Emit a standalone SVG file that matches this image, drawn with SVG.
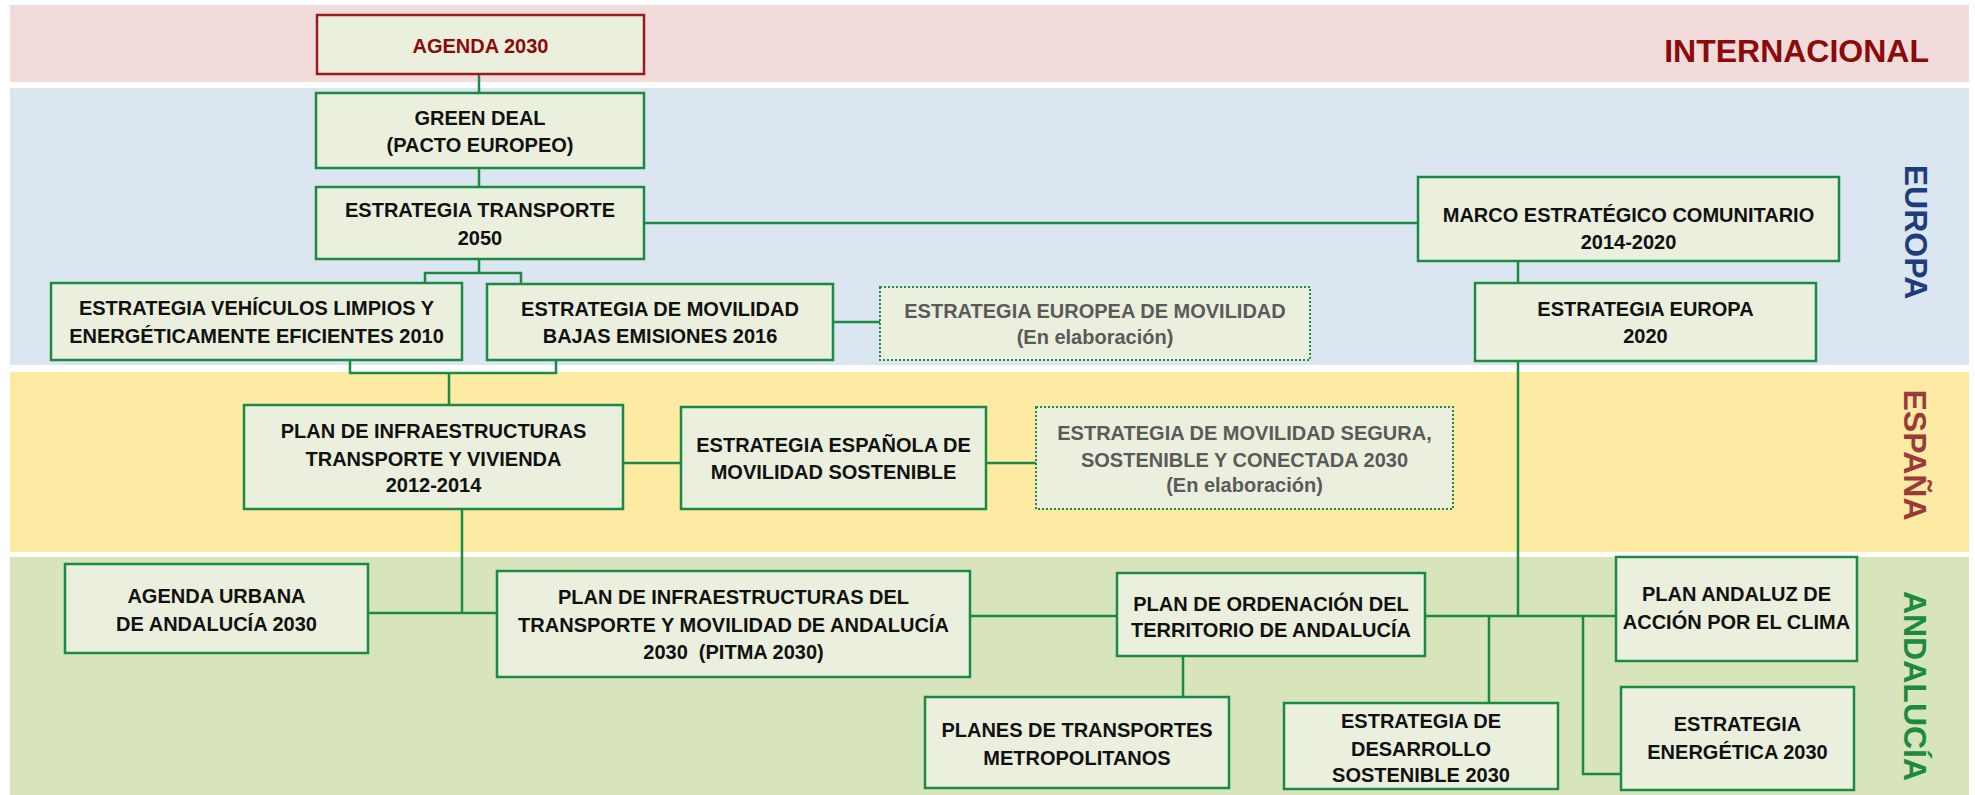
<svg xmlns="http://www.w3.org/2000/svg" width="1975" height="795" viewBox="0 0 1975 795">
<style>
.band{stroke:none}
.node{fill:#EBF0DE;stroke:#1B8A46;stroke-width:2.5}
.red{fill:#EBF0DE;stroke:#9B1B1B;stroke-width:2.5}
.dash{fill:#EBF0DE;stroke:#1B8A46;stroke-width:2;stroke-dasharray:2 2}
.t{font-family:"Liberation Sans",Arial,sans-serif;font-weight:bold;font-size:20px;fill:#111;text-anchor:middle}
.g{fill:#5A5A5A}
.r{fill:#8B0A0A}
.lab{font-family:"Liberation Sans",Arial,sans-serif;font-weight:bold;font-size:32px}
#connectors path{fill:none;stroke:#1B8A46;stroke-width:2.5}
</style>
<rect width="1975" height="795" fill="#ffffff"/>
<g id="bands">
<rect class="band" x="10" y="5" width="1959" height="77" fill="#F2DCDB"/>
<rect class="band" x="10" y="88" width="1959" height="277" fill="#DCE6F1"/>
<rect class="band" x="10" y="372" width="1959" height="180" fill="#FDEBA4"/>
<rect class="band" x="10" y="557" width="1959" height="238" fill="#D8E4BC"/>
</g>
<g id="labels">
<text class="lab" x="1929" y="62" text-anchor="end" fill="#8B0A0A">INTERNACIONAL</text>
<text class="lab" x="1916" y="232" text-anchor="middle" dominant-baseline="central" fill="#1F3C7C" transform="rotate(90 1916 232)">EUROPA</text>
<text class="lab" x="1915" y="455" text-anchor="middle" dominant-baseline="central" fill="#9A3A3A" transform="rotate(90 1915 455)">ESPAÑA</text>
<text class="lab" x="1915" y="686" text-anchor="middle" dominant-baseline="central" fill="#1E8A3E" transform="rotate(90 1915 686)">ANDALUCÍA</text>
</g>
<g id="connectors">
<path d="M479 74V93"/>
<path d="M479 168V187"/>
<path d="M479 259V273M425 283V273H521V284"/>
<path d="M350 360V373H556V360M449 373V405"/>
<path d="M644 223H1418"/>
<path d="M1518 261V283"/>
<path d="M833 322H880"/>
<path d="M623 463H681"/>
<path d="M986 463H1036"/>
<path d="M462 509V613M368 613H497"/>
<path d="M970 616H1117"/>
<path d="M1183 656V697"/>
<path d="M1518 361V616M1425 616H1616"/>
<path d="M1489 616V703"/>
<path d="M1583 616V774H1621"/>
</g>
<g id="agenda2030">
<rect class="red" x="317" y="15" width="327" height="59"/>
<text class="t r" x="480.5" y="53">AGENDA 2030</text>
</g>
<g id="greendeal">
<rect class="node" x="316" y="93" width="328" height="75"/>
<text class="t" x="480" y="125">GREEN DEAL</text>
<text class="t" x="480" y="152">(PACTO EUROPEO)</text>
</g>
<g id="estrategia-transporte">
<rect class="node" x="316" y="187" width="328" height="72"/>
<text class="t" x="480" y="217">ESTRATEGIA TRANSPORTE</text>
<text class="t" x="480" y="245">2050</text>
</g>
<g id="vehiculos-limpios">
<rect class="node" x="51" y="283" width="411" height="77"/>
<text class="t" x="256.5" y="315">ESTRATEGIA VEHÍCULOS LIMPIOS Y</text>
<text class="t" x="256.5" y="343">ENERGÉTICAMENTE EFICIENTES 2010</text>
</g>
<g id="bajas-emisiones">
<rect class="node" x="487" y="284" width="346" height="76"/>
<text class="t" x="660" y="316">ESTRATEGIA DE MOVILIDAD</text>
<text class="t" x="660" y="343">BAJAS EMISIONES 2016</text>
</g>
<g id="europea-movilidad">
<rect class="dash" x="880" y="287" width="430" height="73"/>
<text class="t g" x="1095" y="318">ESTRATEGIA EUROPEA DE MOVILIDAD</text>
<text class="t g" x="1095" y="344">(En elaboración)</text>
</g>
<g id="marco-estrategico">
<rect class="node" x="1418" y="177" width="421" height="84"/>
<text class="t" x="1628.5" y="222">MARCO ESTRATÉGICO COMUNITARIO</text>
<text class="t" x="1628.5" y="249">2014-2020</text>
</g>
<g id="europa-2020">
<rect class="node" x="1475" y="283" width="341" height="78"/>
<text class="t" x="1645.5" y="316">ESTRATEGIA EUROPA</text>
<text class="t" x="1645.5" y="343">2020</text>
</g>
<g id="plan-infraestructuras">
<rect class="node" x="244" y="405" width="379" height="104"/>
<text class="t" x="433.5" y="438">PLAN DE INFRAESTRUCTURAS</text>
<text class="t" x="433.5" y="466">TRANSPORTE Y VIVIENDA</text>
<text class="t" x="433.5" y="492">2012-2014</text>
</g>
<g id="espanola-movilidad">
<rect class="node" x="681" y="407" width="305" height="102"/>
<text class="t" x="833.5" y="452">ESTRATEGIA ESPAÑOLA DE</text>
<text class="t" x="833.5" y="479">MOVILIDAD SOSTENIBLE</text>
</g>
<g id="movilidad-segura">
<rect class="dash" x="1036" y="407" width="417" height="102"/>
<text class="t g" x="1244.5" y="440">ESTRATEGIA DE MOVILIDAD SEGURA,</text>
<text class="t g" x="1244.5" y="467">SOSTENIBLE Y CONECTADA 2030</text>
<text class="t g" x="1244.5" y="492">(En elaboración)</text>
</g>
<g id="agenda-urbana">
<rect class="node" x="65" y="564" width="303" height="89"/>
<text class="t" x="216.5" y="603">AGENDA URBANA</text>
<text class="t" x="216.5" y="631">DE ANDALUCÍA 2030</text>
</g>
<g id="pitma">
<rect class="node" x="497" y="571" width="473" height="106"/>
<text class="t" x="733.5" y="604">PLAN DE INFRAESTRUCTURAS DEL</text>
<text class="t" x="733.5" y="632">TRANSPORTE Y MOVILIDAD DE ANDALUCÍA</text>
<text class="t" x="733.5" y="659">2030&#160; (PITMA 2030)</text>
</g>
<g id="ordenacion-territorio">
<rect class="node" x="1117" y="573" width="308" height="83"/>
<text class="t" x="1271" y="611">PLAN DE ORDENACIÓN DEL</text>
<text class="t" x="1271" y="637">TERRITORIO DE ANDALUCÍA</text>
</g>
<g id="planes-transportes">
<rect class="node" x="925" y="697" width="304" height="91"/>
<text class="t" x="1077" y="737">PLANES DE TRANSPORTES</text>
<text class="t" x="1077" y="765">METROPOLITANOS</text>
</g>
<g id="desarrollo-sostenible">
<rect class="node" x="1284" y="703" width="274" height="86"/>
<text class="t" x="1421" y="728">ESTRATEGIA DE</text>
<text class="t" x="1421" y="756">DESARROLLO</text>
<text class="t" x="1421" y="782">SOSTENIBLE 2030</text>
</g>
<g id="plan-clima">
<rect class="node" x="1616" y="557" width="241" height="104"/>
<text class="t" x="1736.5" y="601">PLAN ANDALUZ DE</text>
<text class="t" x="1736.5" y="629">ACCIÓN POR EL CLIMA</text>
</g>
<g id="energetica">
<rect class="node" x="1621" y="687" width="233" height="103"/>
<text class="t" x="1737.5" y="731">ESTRATEGIA</text>
<text class="t" x="1737.5" y="759">ENERGÉTICA 2030</text>
</g>
</svg>
